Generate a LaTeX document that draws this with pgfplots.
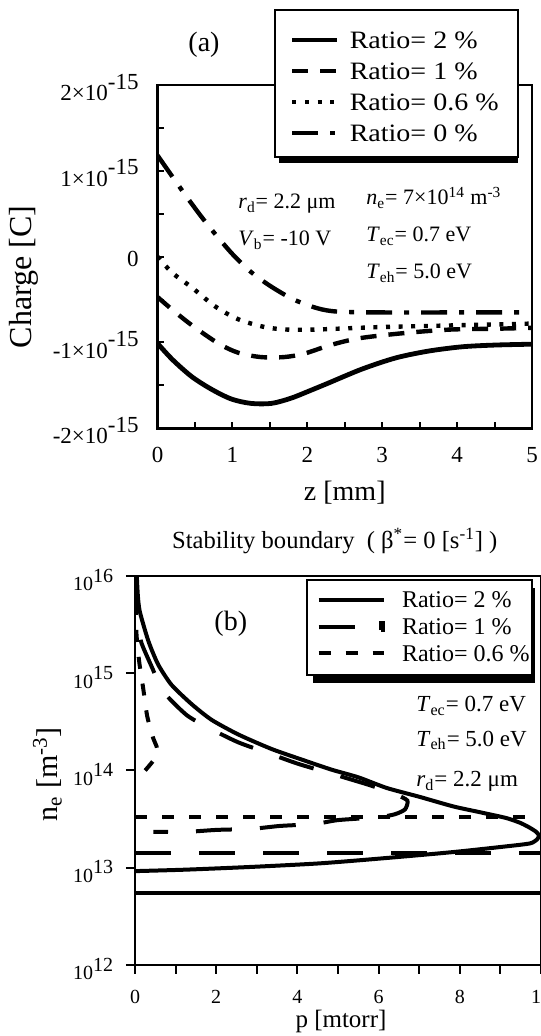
\documentclass[border=0pt]{standalone}
\usepackage{fontspec}
\setmainfont{Liberation Serif}
\newfontfamily\wide{Liberation Serif}[FakeStretch=1.12]
\usepackage{pgfplots}
\pgfplotsset{compat=1.18}
\newcommand{\fsz}[1]{\fontsize{#1}{#1}\selectfont}
\begin{document}
\begin{tikzpicture}
%% legend shadows (drawn first, the white legend boxes cover them)
\fill[black] (139.7pt,-8.3pt) rectangle (258.85pt,-81.65pt);
\fill[black] (156.65pt,-294.2pt) rectangle (267.45pt,-341.7pt);
%% ---------------- panel (a) ----------------
\begin{axis}[
  at={(78.75pt,-214.15pt)}, anchor=south west,
  scale only axis, width=187.25pt, height=171.65pt,
  xmin=0, xmax=5, ymin=-2e-15, ymax=2e-15,
  scaled y ticks=false,
  xtick={0,1,2,3,4,5}, xticklabels={0,1,2,3,4,5},
  minor x tick num=1,
  ytick={-2e-15,-1e-15,0,1e-15,2e-15},
  yticklabels={-2×10\raisebox{0.5em}{-15},-1×10\raisebox{0.5em}{-15},0,1×10\raisebox{0.5em}{-15},2×10\raisebox{0.5em}{-15}},
  minor y tick num=1,
  tick align=inside, tick pos=left,
  major tick length=3pt, minor tick length=3pt,
  tick style={line width=1pt, black},
  axis line style={line width=1.3pt},
  xticklabel style={font=\fsz{11.5}, inner sep=0pt, anchor=north, yshift=-9.2pt},
  yticklabel style={font=\fsz{11.5}, inner sep=0pt, anchor=east, xshift=-9.25pt, yshift=-1.2pt},
  xlabel={z [mm]}, ylabel={Charge [C]},
  every axis x label/.style={at={(axis description cs:0.5,-0.1885)}, anchor=center, font=\fsz{14}},
  every axis y label/.style={at={(axis description cs:-0.3565,0.4407)}, anchor=center, rotate=90, font=\fsz{16}},
  legend image code/.code={\draw[#1] (0pt,4.1pt) -- (22.5pt,4.1pt); \path (27.5pt,4.1pt);},
  legend style={at={(0.31375,1.21846)}, anchor=north west, draw=black, line width=1.1pt, fill=white,
    outer sep=0pt, inner xsep=7.5pt, inner ysep=6pt, row sep=0.85pt, column sep=0pt,
    font=\fsz{12.5}, cells={anchor=base west}, nodes={inner sep=0pt, text depth=}},
]
\addplot[smooth, line width=2.4pt] coordinates {
 (0,-1.01e-15) (0.2,-1.20e-15) (0.46,-1.40e-15) (0.73,-1.55e-15) (0.99,-1.66e-15)
 (1.25,-1.71e-15) (1.52,-1.71e-15) (1.78,-1.65e-15) (2.04,-1.56e-15) (2.29,-1.47e-15)
 (2.73,-1.31e-15) (3.18,-1.18e-15) (3.62,-1.10e-15) (4.07,-1.05e-15) (4.51,-1.03e-15) (5,-1.02e-15)};
\addlegendentry{\makebox[76.65pt][l]{\rule[-1.6pt]{0pt}{14.7pt}\wide Ratio= 2 \%}}
\addplot[smooth, line width=2.2pt, dash pattern=on 8pt off 6pt] coordinates {
 (0,-0.47e-15) (0.2,-0.62e-15) (0.46,-0.80e-15) (0.81,-1.01e-15) (1.08,-1.12e-15)
 (1.38,-1.17e-15) (1.69,-1.17e-15) (1.96,-1.13e-15) (2.31,-1.03e-15) (2.7,-0.95e-15)
 (3.3,-0.89e-15) (3.9,-0.85e-15) (4.5,-0.84e-15) (5,-0.83e-15)};
\addlegendentry{\makebox[76.65pt][l]{\rule[-1.6pt]{0pt}{14.7pt}\wide Ratio= 1 \%}}
\addplot[smooth, line width=2.2pt, dash pattern=on 2pt off 4.3pt] coordinates {
 (0,0) (0.2,-0.19e-15) (0.46,-0.36e-15) (0.77,-0.58e-15) (1.08,-0.73e-15)
 (1.43,-0.82e-15) (1.74,-0.85e-15) (2.09,-0.85e-15) (2.4,-0.84e-15) (3,-0.82e-15)
 (4,-0.80e-15) (5,-0.78e-15)};
\addlegendentry{\makebox[76.65pt][l]{\rule[-1.6pt]{0pt}{14.7pt}\wide Ratio= 0.6 \%}}
\addplot[smooth, line width=2.2pt, dash pattern=on 13pt off 6pt on 2.5pt off 6pt] coordinates {
 (0,1.18e-15) (0.2,0.93e-15) (0.42,0.66e-15) (0.68,0.36e-15) (0.99,0.04e-15)
 (1.25,-0.18e-15) (1.52,-0.35e-15) (1.82,-0.50e-15) (2.13,-0.60e-15) (2.4,-0.64e-15)
 (3,-0.65e-15) (4,-0.65e-15) (5,-0.65e-15)};
\addlegendentry{\makebox[76.65pt][l]{\rule[-1.6pt]{0pt}{14.7pt}\wide Ratio= 0 \%}}
\end{axis}
%% annotations (a)
\node[anchor=center, font=\fsz{14}] at (102pt,-22.5pt) {(a)};
\node[anchor=base west, inner sep=0pt, font=\fsz{11}] at (119pt,-104.5pt) {\textit{r}\textsubscript{d}= 2.2 μm};
\node[anchor=base west, inner sep=0pt, font=\fsz{11}] at (119pt,-123pt) {\textit{V}\textsubscript{b}= -10 V};
\node[anchor=base west, inner sep=0pt, font=\fsz{11}] at (183pt,-102.5pt) {\textit{n}\textsubscript{e}= 7×10\textsuperscript{14} m\textsuperscript{-3}};
\node[anchor=base west, inner sep=0pt, font=\fsz{11}] at (183pt,-121pt) {\textit{T}\textsubscript{ec}= 0.7 eV};
\node[anchor=base west, inner sep=0pt, font=\fsz{11}] at (183pt,-139.5pt) {\textit{T}\textsubscript{eh}= 5.0 eV};
%% ---------------- panel (b) ----------------
\begin{axis}[
  at={(67.5pt,-482.5pt)}, anchor=south west,
  scale only axis, width=203pt, height=194.5pt,
  ymode=log, xmin=0, xmax=10, ymin=1e12, ymax=1e16,
  xtick={0,2,4,6,8,10}, xticklabels={0,2,4,6,8,10},
  minor x tick num=1,
  ytick={1e12,1e13,1e14,1e15,1e16},
  yticklabels={10\raisebox{0.43em}{12},10\raisebox{0.43em}{13},10\raisebox{0.43em}{14},10\raisebox{0.43em}{15},10\raisebox{0.43em}{16}},
  yminorticks=false,
  tick align=outside, tick pos=left,
  major tick length=4.5pt, minor tick length=4.5pt,
  tick style={line width=1pt, black},
  axis line style={line width=1.3pt},
  xticklabel style={font=\fsz{10}, inner sep=0pt, anchor=north, yshift=-8pt},
  yticklabel style={font=\fsz{10}, inner sep=0pt, anchor=east, xshift=-6.2pt, yshift=-2pt},
  xlabel={p [mtorr]}, ylabel={n\textsubscript{e} [m\textsuperscript{-3}]},
  every axis x label/.style={at={(axis description cs:0.5074,-0.144)}, anchor=center, inner sep=0pt, font=\fsz{12.5}},
  every axis y label/.style={at={(axis description cs:-0.2155,0.4897)}, anchor=center, rotate=90, font=\fsz{15}},
  legend image code/.code={\draw[#1] (0pt,4pt) -- (32.5pt,4pt); \path (40.65pt,4pt);},
  legend style={at={(0.42291,0.98972)}, anchor=north west, draw=black, line width=1.1pt, fill=white,
    outer sep=0pt, inner xsep=5pt, inner ysep=5pt, row sep=2.48pt, column sep=0pt,
    font=\fsz{12}, cells={anchor=base west}, nodes={inner sep=0pt, text depth=}},
]
% Ratio = 2 %
\addplot[smooth, tension=0.4, line width=2pt] coordinates {
 (0.035,1.2e16) (0.07,6.3e15) (0.12,4.27e15) (0.33,2.14e15) (0.57,1.23e15) (0.90,7.59e14)
 (1.40,4.79e14) (1.89,3.31e14) (2.55,2.34e14) (3.37,1.66e14) (4.19,1.26e14) (4.84,1.02e14)
 (5.5,8.51e13) (6.2,6.61e13) (7.0,5.37e13) (7.84,4.27e13) (8.5,3.72e13) (9.15,3.24e13)
 (9.5,2.88e13) (9.73,2.57e13) (9.88,2.34e13) (9.95,2.14e13) (9.9,1.95e13) (9.73,1.78e13)
 (9.15,1.66e13) (7.84,1.45e13) (6.2,1.26e13) (4.56,1.11e13) (2.87,1.02e13) (1.23,9.55e12) (0,9.23e12)};
\addlegendentry{\makebox[60.15pt][l]{\rule[-1.85pt]{0pt}{10.85pt}Ratio= 2 \%}}
\addplot[line width=2pt, forget plot] coordinates {(0,5.56e12) (10,5.56e12)};
% Ratio = 1 %
\addplot[smooth, tension=0.4, line width=2pt, dash pattern=on 18pt off 14pt,
  legend image code/.code={\draw[line width=2pt] (0pt,4pt) -- (18pt,4pt); \fill (31.1pt,2.3pt) rectangle (31.9pt,5.7pt); \path (40.65pt,4pt);}] coordinates {
 (0.02,1.0e16) (0.05,5.0e15) (0.1,2.82e15) (0.16,2.04e15) (0.41,1.17e15) (0.70,6.46e14)
 (1.27,3.72e14) (1.81,2.75e14) (2.54,1.95e14) (3.28,1.51e14) (4.02,1.17e14) (4.9,9.12e13)
 (5.7,7.24e13) (6.2,6.17e13) (6.45,5.62e13) (6.71,4.90e13) (6.65,3.98e13) (6.4,3.55e13)
 (6.0,3.31e13) (5.0,3.09e13) (4.43,2.82e13) (3.57,2.69e13) (2.87,2.51e13) (2.01,2.45e13)
 (1.27,2.34e13) (0.45,2.34e13)};
\addlegendentry{\makebox[60.15pt][l]{\rule[-1.85pt]{0pt}{10.85pt}Ratio= 1 \%}}
\addplot[line width=2pt, dash pattern=on 18pt off 14pt, forget plot] coordinates {(0,1.43e13) (10,1.43e13)};
% Ratio = 0.6 %
\addplot[smooth, tension=0.4, line width=2pt, dash pattern=on 6pt off 7.5pt] coordinates {
 (0.01,1.0e16) (0.03,2.82e15) (0.1,1.35e15) (0.2,7.08e14) (0.3,3.63e14) (0.45,2.14e14)
 (0.53,1.78e14) (0.55,1.51e14) (0.45,1.26e14) (0.25,1.0e14)};
\addlegendentry{\makebox[60.15pt][l]{\rule[-1.85pt]{0pt}{10.85pt}Ratio= 0.6 \%}}
\addplot[line width=2pt, dash pattern=on 6pt off 7.5pt, forget plot] coordinates {(0,3.31e13) (10,3.31e13)};
\end{axis}
%% annotations (b)
\node[anchor=base west, inner sep=0pt, font=\fsz{12.3}] at (85.85pt,-274pt) {Stability boundary\ \ ( β\textsuperscript{*}= 0 [s\textsuperscript{-1}] )};
\node[anchor=center, font=\fsz{14}] at (115.4pt,-312.1pt) {(b)};
\node[anchor=base west, inner sep=0pt, font=\fsz{11.5}] at (208pt,-355.8pt) {\textit{T}\textsubscript{ec}= 0.7 eV};
\node[anchor=base west, inner sep=0pt, font=\fsz{11.5}] at (208pt,-373pt) {\textit{T}\textsubscript{eh}= 5.0 eV};
\node[anchor=base west, inner sep=0pt, font=\fsz{11.5}] at (208pt,-393.3pt) {\textit{r}\textsubscript{d}= 2.2 μm};
\pgfresetboundingbox
\path[use as bounding box] (0pt,0pt) rectangle (270pt,-518pt);
\end{tikzpicture}
\end{document}
